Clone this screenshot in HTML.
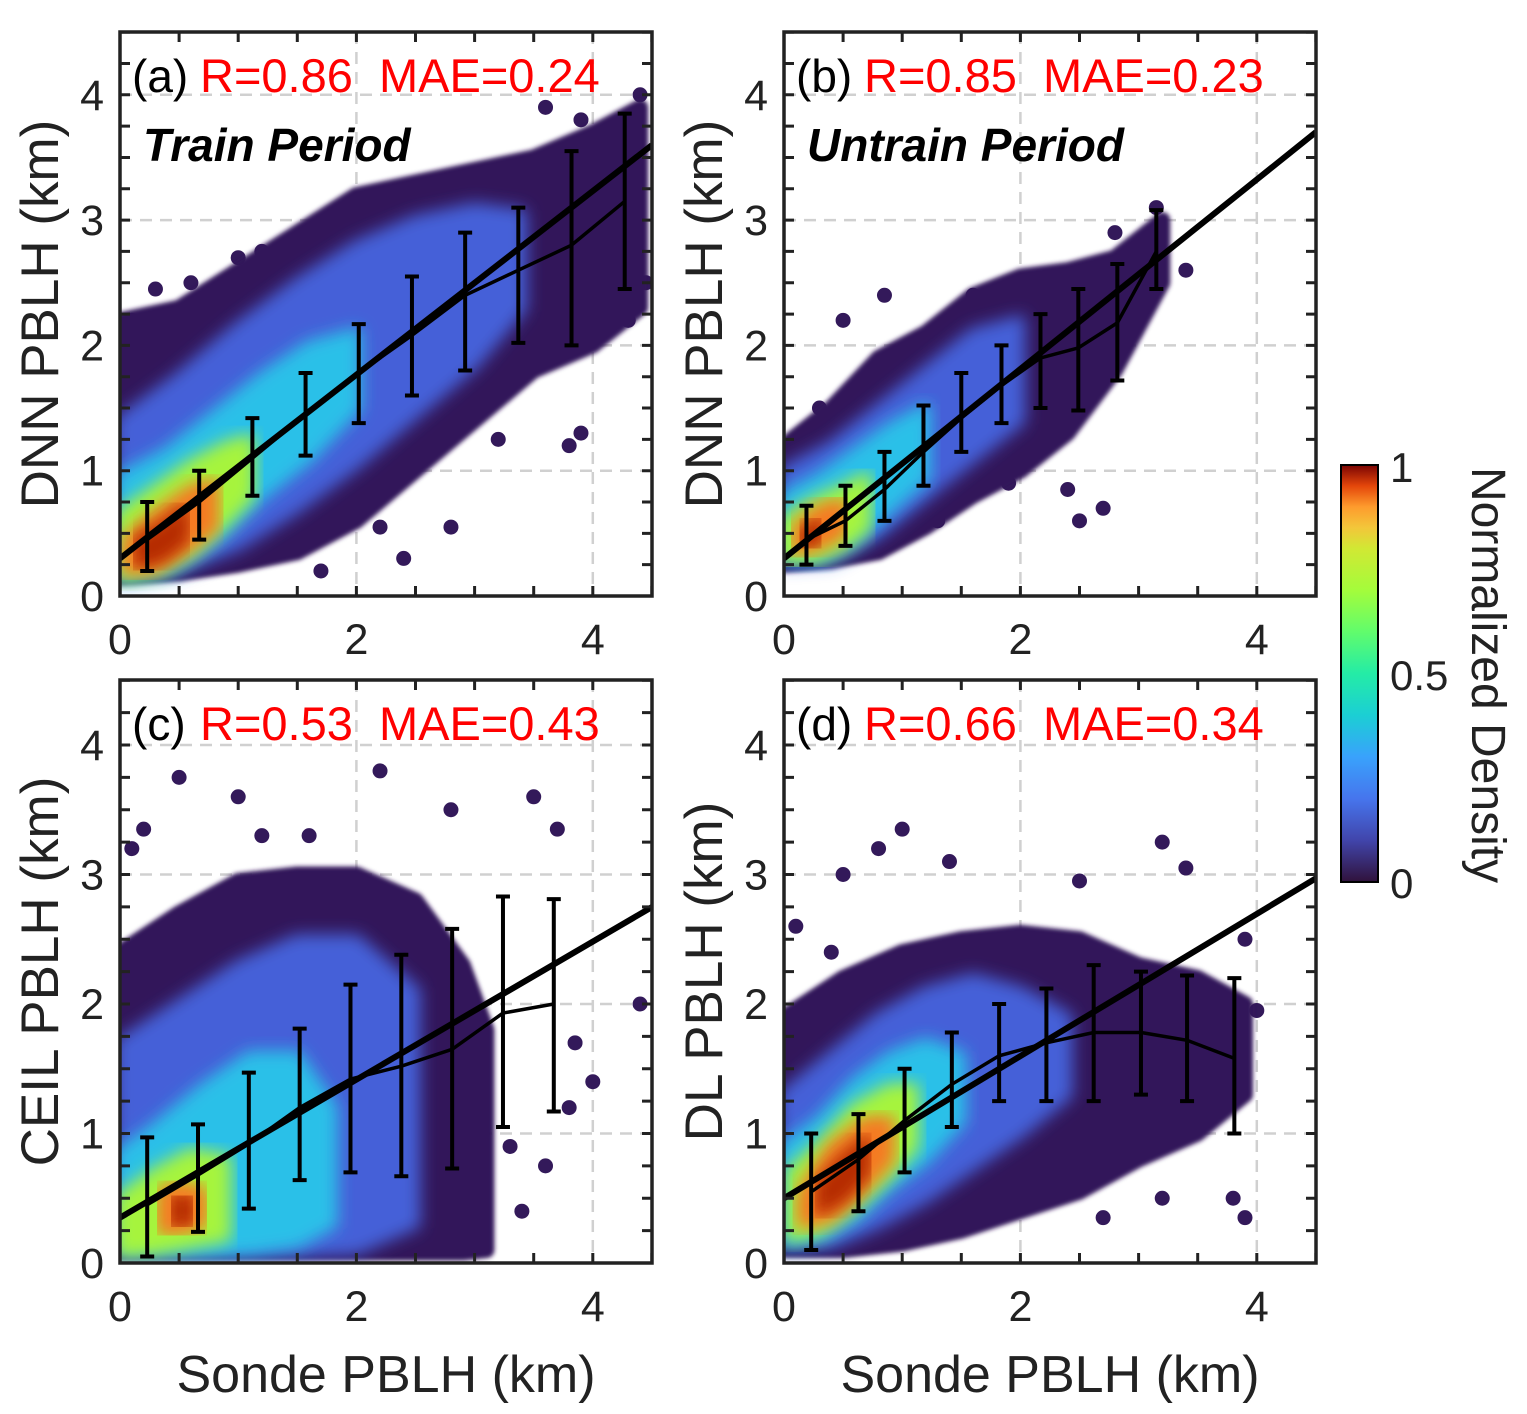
<!DOCTYPE html>
<html><head><meta charset="utf-8"><style>
html,body{margin:0;padding:0;background:#fff}
svg{display:block;font-family:"Liberation Sans",Arial,sans-serif}
</style></head><body>
<svg id="fig" width="1527" height="1414" viewBox="0 0 1527 1414" xmlns="http://www.w3.org/2000/svg">
<defs>
<filter id="blur" x="-10%" y="-10%" width="120%" height="120%"><feGaussianBlur stdDeviation="8"/></filter>
<filter id="blur0" x="-10%" y="-10%" width="120%" height="120%"><feGaussianBlur stdDeviation="2"/></filter>
<linearGradient id="turbo" x1="0" y1="1" x2="0" y2="0">
<stop offset="0" stop-color="#30123b"/><stop offset="0.1" stop-color="#4145ab"/><stop offset="0.2" stop-color="#4675ed"/>
<stop offset="0.3" stop-color="#39a2fc"/><stop offset="0.4" stop-color="#1bcfd4"/><stop offset="0.5" stop-color="#24eca6"/>
<stop offset="0.6" stop-color="#61fc6c"/><stop offset="0.7" stop-color="#a4fc3b"/><stop offset="0.8" stop-color="#d1e834"/>
<stop offset="0.85" stop-color="#f3c63a"/><stop offset="0.9" stop-color="#fe9b2d"/><stop offset="0.95" stop-color="#e4460a"/>
<stop offset="1" stop-color="#7a0403"/></linearGradient>
</defs>
<g id="root"></g>
<rect x="1341" y="465" width="37" height="417" fill="url(#turbo)" stroke="#000" stroke-width="2"/>
<text x="1390" y="482" font-size="42" fill="#222">1</text>
<text x="1390" y="690" font-size="42" fill="#222">0.5</text>
<text x="1390" y="898" font-size="42" fill="#222">0</text>
<text transform="translate(1472,675) rotate(90)" text-anchor="middle" font-size="48" fill="#222">Normalized Density</text>
</svg>
<script>
// ---------- data ----------
const xTicks=[0,2,4];
const yTicks=[0,1,2,3,4];
const labels=['(a)','(b)','(c)','(d)'];
const stats=['R=0.86  MAE=0.24','R=0.85  MAE=0.23','R=0.53  MAE=0.43','R=0.66  MAE=0.34'];
const periods=['Train Period','Untrain Period','',''];
const yTitles=['DNN PBLH (km)','DNN PBLH (km)','CEIL PBLH (km)','DL PBLH (km)'];
const binXa=[0.23,0.67,1.12,1.57,2.02,2.47,2.92,3.37,3.82,4.27];
const meanA=[0.45,0.75,1.1,1.45,1.78,2.08,2.4,2.6,2.8,3.15];
const loA=[0.2,0.45,0.8,1.12,1.38,1.6,1.8,2.02,2.0,2.45];
const hiA=[0.75,1.0,1.42,1.78,2.17,2.55,2.9,3.1,3.55,3.85];
const binXb=[0.19,0.52,0.85,1.18,1.5,1.84,2.17,2.49,2.82,3.15];
const meanB=[0.45,0.6,0.85,1.15,1.42,1.68,1.9,1.98,2.18,2.75];
const loB=[0.25,0.4,0.6,0.88,1.15,1.38,1.5,1.48,1.72,2.45];
const hiB=[0.72,0.88,1.15,1.52,1.78,2.0,2.25,2.45,2.65,3.08];
const binXc=[0.23,0.66,1.09,1.52,1.95,2.38,2.81,3.24,3.67];
const meanC=[0.45,0.68,0.92,1.2,1.42,1.52,1.65,1.93,2.0];
const loC=[0.05,0.24,0.42,0.64,0.7,0.67,0.73,1.05,1.17];
const hiC=[0.97,1.07,1.47,1.81,2.15,2.38,2.58,2.83,2.81];
const binXd=[0.23,0.63,1.02,1.42,1.82,2.22,2.62,3.02,3.41,3.81];
const meanD=[0.55,0.8,1.1,1.38,1.6,1.7,1.78,1.78,1.72,1.58];
const loD=[0.1,0.4,0.7,1.05,1.25,1.25,1.25,1.3,1.25,1.0];
const hiD=[1.0,1.15,1.5,1.78,2.0,2.12,2.3,2.25,2.22,2.2];
const fitA=[0.3,0.733];const fitB=[0.3,0.756];const fitC=[0.35,0.533];const fitD=[0.5,0.549];
const layersA=[
 {xs:[0,0.5,1,1.5,2,2.5,3,3.5,4,4.4],lo:[0.15,0.18,0.25,0.35,0.6,1.0,1.4,1.8,2.0,2.3],hi:[2.2,2.3,2.6,2.9,3.2,3.3,3.4,3.5,3.7,3.9]},
 {xs:[0,0.5,1,1.5,2,2.5,3,3.4],lo:[0.15,0.22,0.4,0.7,1.05,1.45,1.85,2.3],hi:[1.4,1.75,2.15,2.5,2.8,3.0,3.1,3.05]},
 {xs:[0,0.4,0.8,1.2,1.6,2.0],lo:[0.15,0.2,0.45,0.8,1.1,1.5],hi:[0.95,1.15,1.45,1.75,2.0,2.1]},
 {xs:[0,0.3,0.6,0.9,1.1],lo:[0.15,0.2,0.35,0.6,0.8],hi:[0.65,0.85,1.05,1.2,1.25]},
 {xs:[0.05,0.3,0.6,0.8],lo:[0.2,0.22,0.4,0.55],hi:[0.45,0.65,0.85,0.9]},
 {xs:[0.15,0.35,0.55],lo:[0.25,0.3,0.45],hi:[0.45,0.55,0.7]}];
const layersB=[
 {xs:[0,0.4,0.8,1.2,1.6,2.0,2.4,2.8,3.2],lo:[0.25,0.28,0.35,0.55,0.8,1.0,1.3,1.8,2.5],hi:[1.2,1.5,1.9,2.1,2.4,2.55,2.6,2.7,3.0]},
 {xs:[0,0.4,0.8,1.2,1.6,2.0],lo:[0.28,0.3,0.5,0.8,1.1,1.4],hi:[1.0,1.2,1.5,1.8,2.1,2.2]},
 {xs:[0,0.3,0.6,0.9,1.2],lo:[0.3,0.3,0.45,0.7,0.95],hi:[0.8,0.95,1.15,1.35,1.5]},
 {xs:[0,0.25,0.5,0.7],lo:[0.3,0.3,0.4,0.55],hi:[0.6,0.75,0.85,0.95]},
 {xs:[0.1,0.3,0.5],lo:[0.35,0.4,0.5],hi:[0.55,0.7,0.75]},
 {xs:[0.15,0.3],lo:[0.4,0.45],hi:[0.5,0.6]}];
const layersC=[
 {xs:[0,0.5,1,1.5,2,2.5,2.9,3.1],lo:[0.08,0.08,0.08,0.08,0.08,0.08,0.08,0.1],hi:[2.4,2.7,2.95,3.0,3.0,2.8,2.3,1.8]},
 {xs:[0,0.5,1,1.5,2,2.5],lo:[0.08,0.08,0.08,0.08,0.1,0.3],hi:[1.7,2.0,2.3,2.5,2.5,2.1]},
 {xs:[0,0.3,0.7,1.1,1.5,1.8],lo:[0.08,0.08,0.08,0.1,0.15,0.3],hi:[0.85,1.05,1.35,1.6,1.6,1.2]},
 {xs:[0,0.3,0.6,0.9],lo:[0.08,0.1,0.15,0.2],hi:[0.5,0.7,0.85,0.8]},
 {xs:[0.35,0.5,0.7],lo:[0.25,0.25,0.3],hi:[0.55,0.6,0.55]},
 {xs:[0.45,0.6],lo:[0.3,0.32],hi:[0.5,0.5]}];
const layersD=[
 {xs:[0,0.5,1,1.5,2,2.5,3,3.5,3.9],lo:[0.1,0.1,0.15,0.25,0.4,0.55,0.8,1.0,1.3],hi:[1.9,2.2,2.4,2.5,2.55,2.5,2.3,2.2,2.0]},
 {xs:[0,0.4,0.8,1.2,1.6,2.0,2.4],lo:[0.15,0.15,0.3,0.5,0.75,1.0,1.3],hi:[1.3,1.6,1.9,2.1,2.2,2.1,1.9]},
 {xs:[0,0.3,0.6,0.9,1.2,1.5],lo:[0.15,0.2,0.35,0.6,0.8,1.1],hi:[0.9,1.1,1.4,1.6,1.7,1.6]},
 {xs:[0.05,0.3,0.6,0.9,1.1],lo:[0.2,0.25,0.45,0.7,0.9],hi:[0.7,0.9,1.2,1.35,1.35]},
 {xs:[0.15,0.4,0.7,0.9],lo:[0.3,0.35,0.6,0.8],hi:[0.55,0.9,1.1,1.1]},
 {xs:[0.3,0.5,0.7],lo:[0.4,0.5,0.7],hi:[0.6,0.8,0.95]}];
const outXa=[3.6,4.4,3.8,2.8,1.2,0.1,4.45,4.3,3.9,2.4,1.7,0.6,3.9,4.1,0.3,1.0,2.2,3.2];
const outYa=[3.9,4.0,1.2,0.55,2.75,2.2,2.5,2.2,1.3,0.3,0.2,2.5,3.8,3.6,2.45,2.7,0.55,1.25];
const outXb=[2.5,2.7,1.6,0.5,1.3,2.8,3.4,0.3,0.85,3.15,1.9,2.4];
const outYb=[0.6,0.7,2.4,2.2,0.6,2.9,2.6,1.5,2.4,3.1,0.9,0.85];
const outXc=[0.5,2.2,3.5,4.4,3.85,3.7,1.0,0.1,2.8,1.6,3.8,4.0,3.4,0.2,1.2,3.3,3.6];
const outYc=[3.75,3.8,3.6,2.0,1.7,3.35,3.6,3.2,3.5,3.3,1.2,1.4,0.4,3.35,3.3,0.9,0.75];
const outXd=[0.5,1.0,1.4,3.2,3.4,3.9,3.8,3.9,0.8,0.1,2.5,3.8,4.0,0.4,2.7,3.2];
const outYd=[3.0,3.35,3.1,3.25,3.05,2.5,0.5,0.35,3.2,2.6,2.95,1.7,1.95,2.4,0.35,0.5];
const layerColors=['#33195a','#4560d8','#2cc0e8','#a6f43c','#f57a22','#b52a06'];
// ---------- layout ----------
const panels=[
 {x0:120,x1:652,y0:596,yTop:32,kx:118.2,ky:125.3,bx:binXa,m:meanA,lo:loA,hi:hiA,fit:fitA,layers:layersA,ox:outXa,oy:outYa,xl:false},
 {x0:784,x1:1316,y0:596,yTop:32,kx:118.2,ky:125.3,bx:binXb,m:meanB,lo:loB,hi:hiB,fit:fitB,layers:layersB,ox:outXb,oy:outYb,xl:false},
 {x0:120,x1:652,y0:1263,yTop:680,kx:118.2,ky:129.5,bx:binXc,m:meanC,lo:loC,hi:hiC,fit:fitC,layers:layersC,ox:outXc,oy:outYc,xl:true},
 {x0:784,x1:1316,y0:1263,yTop:680,kx:118.2,ky:129.5,bx:binXd,m:meanD,lo:loD,hi:hiD,fit:fitD,layers:layersD,ox:outXd,oy:outYd,xl:true}];
const NS='http://www.w3.org/2000/svg';
const root=document.getElementById('root');
function mk(tag,attrs,parent){const e=document.createElementNS(NS,tag);for(const k in attrs)e.setAttribute(k,attrs[k]);(parent||root).appendChild(e);return e;}
panels.forEach((p,i)=>{
 const X=v=>p.x0+v*p.kx, Y=v=>p.y0-v*p.ky;
 const g=mk('g',{});
 
 
 const cid='clip'+i;
 const cp=mk('clipPath',{id:cid},g);mk('rect',{x:p.x0,y:p.yTop,width:p.x1-p.x0,height:p.y0-p.yTop},cp);
 xTicks.forEach(t=>{if(t>0){const l=mk('line',{x1:X(t),x2:X(t),y1:p.yTop,y2:p.y0,stroke:'#d0d0d0','stroke-width':2.5,'stroke-dasharray':'12 8'},g);}});
 yTicks.forEach(t=>{if(t>0){const l=mk('line',{x1:p.x0,x2:p.x1,y1:Y(t),y2:Y(t),stroke:'#d0d0d0','stroke-width':2.5,'stroke-dasharray':'12 8'},g);}});
 const cg=mk('g',{'clip-path':'url(#'+cid+')'},g);
 
 
 p.ox.forEach((v,j)=>{const c=mk('circle',{cx:X(v),cy:Y(p.oy[j]),r:7.5,fill:layerColors[0]},cg);});
 p.layers.forEach((L,k)=>{
  let pts=[];L.xs.forEach((x,j)=>pts.push(X(x)+','+Y(L.hi[j])));
  for(let j=L.xs.length-1;j>=0;j--)pts.push(X(L.xs[j])+','+Y(L.lo[j]));
  const poly=mk('polygon',{points:pts.join(' '),fill:layerColors[k],stroke:layerColors[k],'stroke-width':k==0?16:10,'stroke-linejoin':'round',filter:k==0?'url(#blur0)':'url(#blur)'},cg);
  
  
 });
 const fl=mk('line',{x1:X(0),y1:Y(p.fit[0]),x2:X(4.5),y2:Y(p.fit[0]+p.fit[1]*4.5),stroke:'#000','stroke-width':6,'clip-path':'url(#'+cid+')'},g);
 
 
 const ml=mk('polyline',{points:p.bx.map((x,j)=>X(x)+','+Y(p.m[j])).join(' '),fill:'none',stroke:'#000','stroke-width':3.5},g);
 
 
 p.bx.forEach((x,j)=>{
  const eb=mk('path',{d:`M${X(x)},${Y(p.lo[j])}V${Y(p.hi[j])}M${X(x)-7},${Y(p.lo[j])}h14M${X(x)-7},${Y(p.hi[j])}h14`,stroke:'#000','stroke-width':4,fill:'none'},g);
  
  
 });
 for(let t=0;t<=4.5001;t+=0.5){mk('path',{d:`M${X(t)},${p.y0}v-10M${X(t)},${p.yTop}v10`,stroke:'#222','stroke-width':3},g);}
 for(let t=0;t<=4.5001;t+=0.25){mk('path',{d:`M${p.x0},${Y(t)}h10M${p.x1},${Y(t)}h-10`,stroke:'#222','stroke-width':3},g);}
 const fr=mk('rect',{x:p.x0,y:p.yTop,width:p.x1-p.x0,height:p.y0-p.yTop,fill:'none',stroke:'#222','stroke-width':3.5},g);
 
 
 xTicks.forEach(t=>{const tx=mk('text',{x:X(t),y:p.y0+58,'text-anchor':'middle','font-size':43,fill:'#222'},g);tx.textContent=t;});
 yTicks.forEach(t=>{const tx=mk('text',{x:p.x0-16,y:Y(t)+15,'text-anchor':'end','font-size':43,fill:'#222'},g);tx.textContent=t;});
 const yt=mk('text',{transform:`translate(${p.x0-62},${(p.y0+p.yTop)/2}) rotate(-90)`,'text-anchor':'middle','font-size':53,fill:'#222'},g);
 yt.textContent=yTitles[i];
 if(p.xl){const xt=mk('text',{x:(p.x0+p.x1)/2,y:1392,'text-anchor':'middle','font-size':52,fill:'#222'},g);xt.textContent='Sonde PBLH (km)';}
 const lb=mk('text',{x:p.x0+12,y:p.yTop+60,'font-size':46,fill:'#000'},g);lb.textContent=labels[i];
 const st=mk('text',{x:p.x0+80,y:p.yTop+60,'font-size':47,fill:'#ff0000'},g);st.textContent=stats[i];st.style.whiteSpace='pre';
 if(periods[i]){const pt=mk('text',{x:p.x0+23,y:p.yTop+129,'font-size':46,'font-weight':'bold','font-style':'italic',fill:'#000'},g);pt.textContent=periods[i];}
});
</script>
</body></html>
